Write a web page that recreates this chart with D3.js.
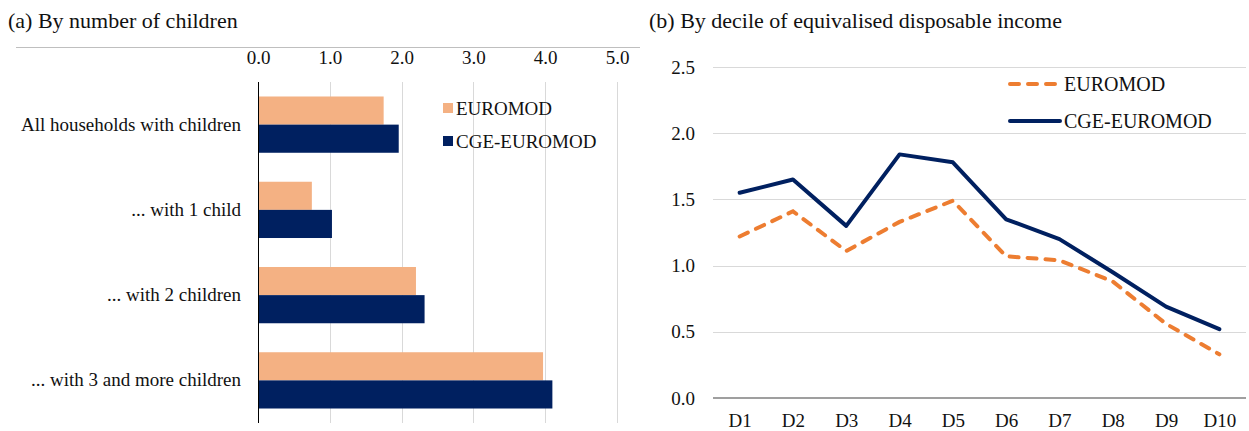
<!DOCTYPE html>
<html>
<head>
<meta charset="utf-8">
<script src="https://cdn.jsdelivr.net/npm/d3@7"></script>
<style>
  body { margin: 0; background: #fff; }
</style>
</head>
<body>
<div id="chart"></div>
<script>
// chart data
const groups = ["All households with children", "... with 1 child", "... with 2 children", "... with 3 and more children"];
const barSeries = ["EUROMOD", "CGE-EUROMOD"];
const barEuromod = [1.75, 0.75, 2.2, 3.97];
const barCge = [1.96, 1.03, 2.32, 4.1];
const barTicks = [0, 1, 2, 3, 4, 5];

const deciles = ["D1", "D2", "D3", "D4", "D5", "D6", "D7", "D8", "D9", "D10"];
const lineEuromod = [1.22, 1.41, 1.11, 1.33, 1.49, 1.07, 1.04, 0.88, 0.56, 0.33];
const lineCge = [1.55, 1.65, 1.30, 1.84, 1.78, 1.35, 1.20, 0.95, 0.69, 0.52];
const lineTicks = [0, 0.5, 1, 1.5, 2, 2.5];

const width = 1249;
const height = 431;
const serif = '"Liberation Serif", "Times New Roman", serif';
const colors = {euromodBar: "#F4B183", cge: "#002060", euromodLine: "#ED7D31"};

const svg = d3.select("#chart")
  .append("svg")
  .attr("width", width)
  .attr("height", height);

// helper for text styling
function styleText(sel, size) {
  sel.style("font-family", serif)
     .style("font-size", size + "px")
     .style("fill", "#111");
}

/*
  (a) bar chart
*/
svg.append("text")
  .attr("x", 8).attr("y", 28)
  .text("(a) By number of children")
  .call(styleText, 22);

svg.append("line")
  .attr("x1", 16).attr("x2", 640)
  .attr("y1", 47.5).attr("y2", 47.5)
  .attr("stroke", "#bfbfbf");

const xA = d3.scaleLinear().domain([0, 5]).range([258, 617]);
const yA = d3.scaleBand().domain(groups).range([82, 423])
  .paddingInner(0.34).paddingOuter(0.17);
const ySub = d3.scaleBand().domain(barSeries).range([0, yA.bandwidth()]);

// gridlines
svg.append("g")
  .selectAll("line")
  .data(barTicks.slice(1))
  .join("line")
  .attr("x1", d => Math.round(xA(d)) + 0.5).attr("x2", d => Math.round(xA(d)) + 0.5)
  .attr("y1", 82).attr("y2", 423)
  .attr("stroke", "#d9d9d9");

// top tick labels
svg.append("g")
  .attr("transform", "translate(0,60)")
  .call(d3.axisTop(xA).tickValues(barTicks).tickFormat(d3.format(".1f")).tickSize(0))
  .call(g => g.select(".domain").remove())
  .selectAll("text")
  .attr("dy", "0.35em")
  .call(styleText, 19);

const barRows = groups.map((g, i) => ({g, values: [barEuromod[i], barCge[i]]}));

svg.append("g")
  .selectAll("g")
  .data(barRows)
  .join("g")
  .attr("transform", d => `translate(0,${yA(d.g)})`)
  .selectAll("rect")
  .data(d => d.values.map((v, j) => ({s: barSeries[j], v})))
  .join("rect")
  .attr("x", xA(0))
  .attr("y", d => ySub(d.s))
  .attr("width", d => xA(d.v) - xA(0))
  .attr("height", ySub.bandwidth())
  .attr("fill", d => d.s === "EUROMOD" ? colors.euromodBar : colors.cge);

// category labels
svg.append("g")
  .attr("transform", "translate(241,0)")
  .call(d3.axisLeft(yA).tickSize(0).tickPadding(0))
  .call(g => g.select(".domain").remove())
  .selectAll("text")
  .call(styleText, 19);

// vertical axis line
svg.append("line")
  .attr("x1", xA(0) + 0.5).attr("x2", xA(0) + 0.5)
  .attr("y1", 82).attr("y2", 423)
  .attr("stroke", "#000");

// legend (a)
const legA = svg.append("g")
  .selectAll("g")
  .data(barSeries)
  .join("g")
  .attr("transform", (d, i) => `translate(443,${108 + i * 33})`);
legA.append("rect")
  .attr("x", 0).attr("y", -5)
  .attr("width", 10).attr("height", 10)
  .attr("fill", d => d === "EUROMOD" ? colors.euromodBar : colors.cge);
legA.append("text")
  .attr("x", 13).attr("dy", "0.35em")
  .text(d => d)
  .call(styleText, 19);

/*
  (b) line chart
*/
svg.append("text")
  .attr("x", 649).attr("y", 28)
  .text("(b) By decile of equivalised disposable income")
  .call(styleText, 22);

const xB = d3.scalePoint().domain(deciles).range([713, 1246]).padding(0.5);
const yB = d3.scaleLinear().domain([0, 2.5]).range([398, 67]);

svg.append("g")
  .selectAll("line")
  .data(lineTicks.slice(1))
  .join("line")
  .attr("x1", 713).attr("x2", 1246)
  .attr("y1", d => Math.round(yB(d)) + 0.5).attr("y2", d => Math.round(yB(d)) + 0.5)
  .attr("stroke", "#d9d9d9");

svg.append("line")
  .attr("x1", 713).attr("x2", 1246)
  .attr("y1", yB(0)).attr("y2", yB(0))
  .attr("stroke", "#404040").attr("stroke-width", 1.2);

svg.append("g")
  .attr("transform", "translate(695,0)")
  .call(d3.axisLeft(yB).tickValues(lineTicks).tickFormat(d3.format(".1f")).tickSize(0).tickPadding(0))
  .call(g => g.select(".domain").remove())
  .selectAll("text")
  .call(styleText, 19);

svg.append("g")
  .attr("transform", "translate(0,413)")
  .call(d3.axisBottom(xB).tickSize(0).tickPadding(0))
  .call(g => g.select(".domain").remove())
  .selectAll("text")
  .call(styleText, 19);

const line = d3.line()
  .x((d, i) => xB(deciles[i]))
  .y(d => yB(d));

svg.append("path")
  .datum(lineEuromod)
  .attr("d", line)
  .attr("fill", "none")
  .attr("stroke", colors.euromodLine)
  .attr("stroke-width", 4)
  .attr("stroke-linecap", "round")
  .attr("stroke-dasharray", "9,9");

svg.append("path")
  .datum(lineCge)
  .attr("d", line)
  .attr("fill", "none")
  .attr("stroke", colors.cge)
  .attr("stroke-width", 4)
  .attr("stroke-linecap", "round")
  .attr("stroke-linejoin", "round");

// legend (b)
const legB = svg.append("g")
  .selectAll("g")
  .data(barSeries)
  .join("g")
  .attr("transform", (d, i) => `translate(1010,${84 + i * 37})`);
legB.append("line")
  .attr("x1", 0).attr("x2", 50)
  .attr("stroke", d => d === "EUROMOD" ? colors.euromodLine : colors.cge)
  .attr("stroke-width", 4)
  .attr("stroke-linecap", "round")
  .attr("stroke-dasharray", d => d === "EUROMOD" ? "9,9" : null);
legB.append("text")
  .attr("x", 54).attr("dy", "0.35em")
  .text(d => d)
  .call(styleText, 20);
</script>
</body>
</html>
